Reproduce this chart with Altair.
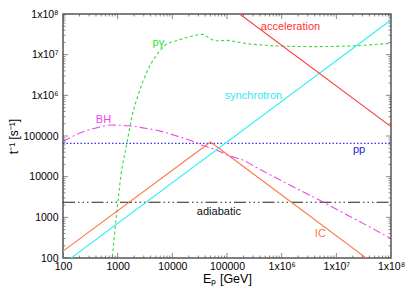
import altair as alt
import pandas as pd

# ---- data ----
acc_E = [1.0e5, 1.0e8]
acc_rate = [1.7e8, 1.7e5]

syn_E = [100, 1.0e8]
syn_rate = [71, 7.1e7]

ic_E = [100, 5.0e4, 1.0e8]
ic_rate = [148, 7.1e4, 35]

pp_E = [100, 1.0e8]
pp_rate = [6.6e4, 6.6e4]

adi_E = [100, 1.0e8]
adi_rate = [2350, 2350]

bh_E = [100, 200, 400, 750, 1600, 3200, 6000, 12600, 24500, 40000, 68000,
        117000, 178000, 400000, 1.0e6, 3.2e6, 5.9e6, 1.0e7, 3.2e7, 1.0e8]
bh_rate = [72400, 117500, 158000, 186000, 178000, 155000, 132000, 98000,
           72400, 56000, 43600, 31600, 26900, 15100, 7900, 3550, 2340, 1580,
           690, 300]

pg_E = [780, 794, 955, 1150, 1480, 1820, 2400, 3470, 4900, 7400, 12300, 21400,
        35500, 50000, 61700, 1.0e5, 155000, 270000, 410000, 1.0e6, 4.0e6,
        1.6e7, 4.0e7, 1.0e8]
pg_rate = [80, 100, 1200, 11000, 67600, 295000, 1.07e6, 3.9e6, 8.9e6, 1.7e7,
           2.24e7, 2.8e7, 3.16e7, 2.45e7, 2.19e7, 2.24e7, 2.04e7, 1.82e7,
           1.74e7, 1.62e7, 1.58e7, 1.62e7, 1.74e7, 1.9e7]

label_text = ["acceleration", "pγ", "synchrotron", "BH", "pp", "adiabatic", "IC"]
label_E = [1.45e6, 5560, 3.05e5, 550, 2.6e7, 7.1e4, 5.1e6]
label_rate = [4.9e7, 1.9e7, 9.8e5, 2.45e5, 4.4e4, 1350, 400]
label_color = ["#ff3333", "#33dd33", "#33e8f0", "#ee44ee", "#2222cc", "#111111", "#ff7744"]

major_ticks = [10.0 ** k for k in range(2, 9)]
minor_ticks = [m * 10.0 ** k for k in range(2, 8) for m in range(2, 10)]

XDOM = [100, 1.0e8]
YDOM = [100, 1.0e8]

sup = "{'6':'⁶','7':'⁷','8':'⁸'}"
lab_expr = ("datum.value < 500000 ? format(datum.value, 'd') : "
            "'1x10' + " + sup + "[format(round(log(datum.value)/LN10), 'd')]")

FONT = "Liberation Sans"

xscale = alt.Scale(type="log", domain=XDOM, nice=False)
yscale = alt.Scale(type="log", domain=YDOM, nice=False)

XAX = alt.Axis(values=major_ticks, labelExpr=lab_expr, ticks=False, domain=False,
               grid=False, title="Eₚ [GeV]", labelPadding=3, titlePadding=1,
               labelFont=FONT, titleFont=FONT, labelFontSize=10.5, titleFontSize=12.5,
               titleFontWeight="normal", labelColor="#000", titleColor="#000",
               labelFlush=False, labelOverlap=False)
YAX = alt.Axis(values=major_ticks, labelExpr=lab_expr, ticks=False, domain=False,
               grid=False, title="t⁻¹ [s⁻¹]", labelPadding=5, titlePadding=2,
               labelFont=FONT, titleFont=FONT, labelFontSize=10.5, titleFontSize=12,
               titleFontWeight="normal", labelColor="#000", titleColor="#000",
               labelFlush=False, labelOverlap=False)


def line(E, R, color, dash=None, interp="linear", width=1.1):
    df = pd.DataFrame({"E": E, "rate": R})
    kw = dict(color=color, strokeWidth=width, clip=True, interpolate=interp)
    if dash:
        kw["strokeDash"] = dash
    return alt.Chart(df).mark_line(**kw).encode(
        x=alt.X("E:Q", scale=xscale, axis=XAX),
        y=alt.Y("rate:Q", scale=yscale, axis=YAX),
    )


def xticks(values, edge, size):
    df = pd.DataFrame({"E": values})
    return alt.Chart(df).mark_tick(orient="vertical", size=size, thickness=1,
                                   color="#555", clip=True).encode(
        x=alt.X("E:Q", scale=xscale, axis=XAX),
        y=alt.YDatum(edge, scale=yscale, axis=YAX),
    )


def yticks(values, edge, size):
    df = pd.DataFrame({"rate": values})
    return alt.Chart(df).mark_tick(orient="horizontal", size=size, thickness=1,
                                   color="#555", clip=True).encode(
        y=alt.Y("rate:Q", scale=yscale, axis=YAX),
        x=alt.XDatum(edge, scale=xscale, axis=XAX),
    )


layers = [
    line(pp_E, pp_rate, "#3333ff", dash=[1.5, 2]),
    line(adi_E, adi_rate, "#222222", dash=[12, 3, 1.5, 3, 1.5, 3, 1.5, 3]),
    line(bh_E, bh_rate, "#ee44ee", dash=[8, 3, 2, 3], interp="monotone"),
    line(pg_E, pg_rate, "#33dd33", dash=[3, 2.5], interp="monotone"),
    line(ic_E, ic_rate, "#ff7744"),
    line(syn_E, syn_rate, "#33eeee"),
    line(acc_E, acc_rate, "#ff3333"),
    xticks(major_ticks, YDOM[0], 10), xticks(minor_ticks, YDOM[0], 5),
    xticks(major_ticks, YDOM[1], 10), xticks(minor_ticks, YDOM[1], 5),
    yticks(major_ticks, XDOM[0], 10), yticks(minor_ticks, XDOM[0], 5),
    yticks(major_ticks, XDOM[1], 10), yticks(minor_ticks, XDOM[1], 5),
]

labels_df = pd.DataFrame({"t": label_text, "E": label_E, "rate": label_rate, "c": label_color})
labels = alt.Chart(labels_df).mark_text(font=FONT, fontSize=11, align="center",
                                        baseline="middle").encode(
    x=alt.X("E:Q", scale=xscale, axis=XAX),
    y=alt.Y("rate:Q", scale=yscale, axis=YAX),
    text="t:N",
    color=alt.Color("c:N", scale=None),
)
layers.append(labels)

chart = alt.layer(*layers).properties(
    width=328, height=244,
    autosize=alt.AutoSizeParams(type="none"),
    padding={"left": 55, "top": 6, "right": 16, "bottom": 33},
).configure_view(stroke="#555", strokeWidth=1.5)

chart.save("out.html", embed_options={"renderer": "svg", "actions": False})
